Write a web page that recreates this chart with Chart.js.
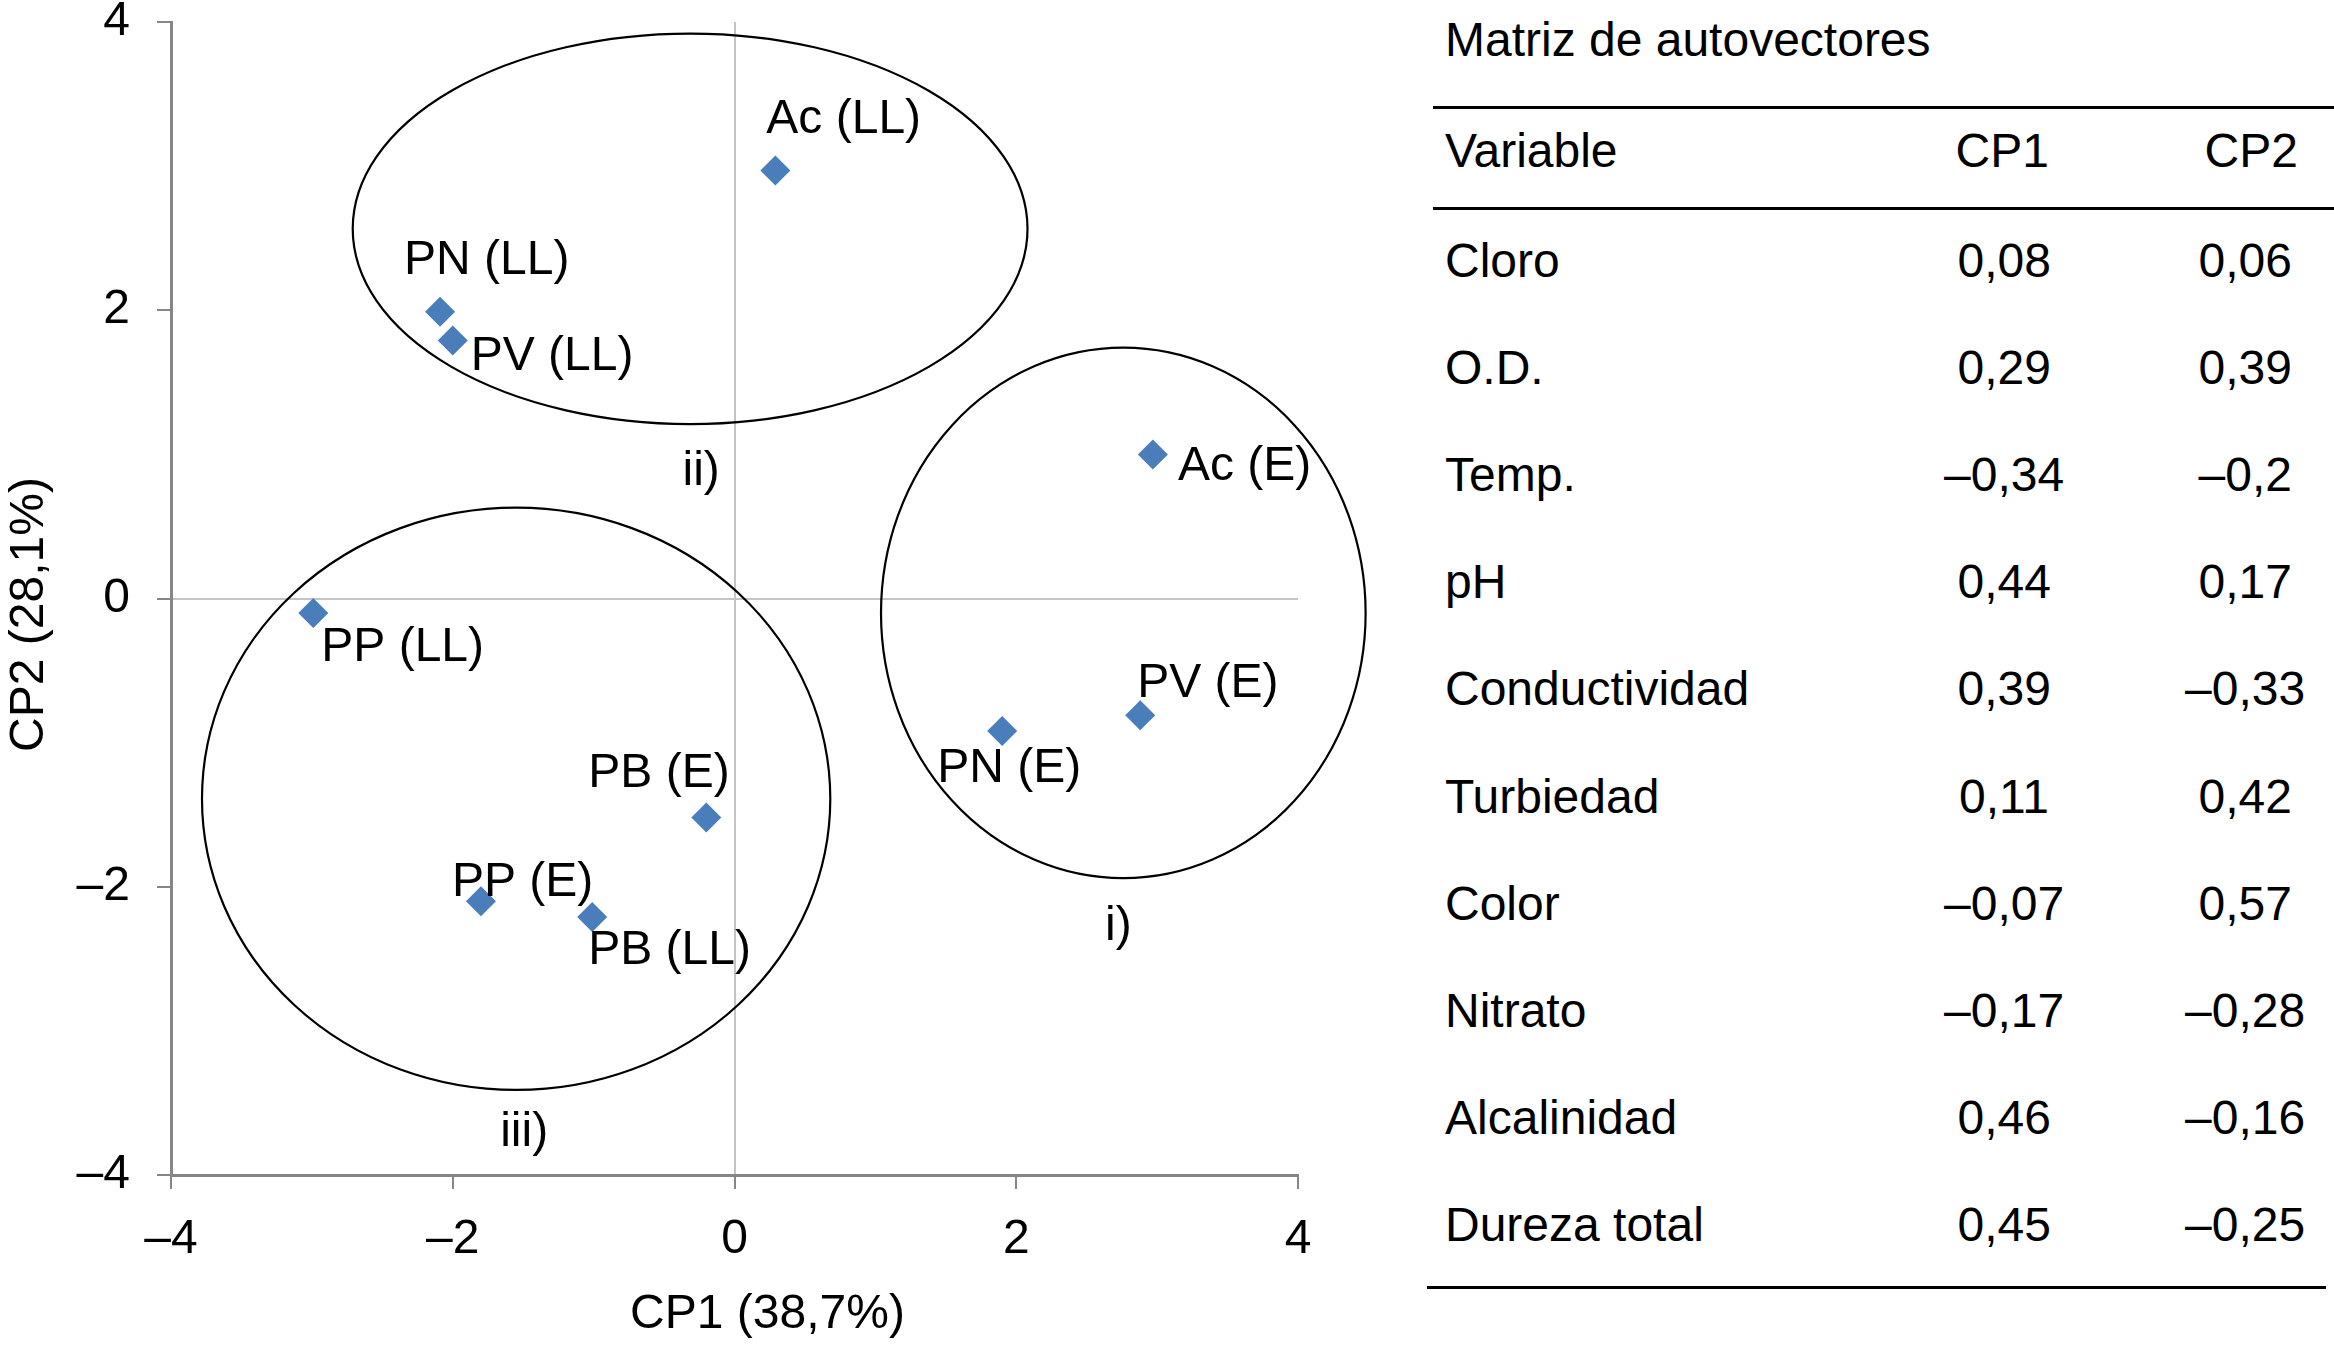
<!DOCTYPE html>
<html>
<head>
<meta charset="utf-8">
<script src="https://cdn.jsdelivr.net/npm/chart.js@4/dist/chart.umd.min.js"></script>
<style>
  html, body { margin: 0; padding: 0; background: #fff; }
  body { width: 2334px; height: 1351px; overflow: hidden; position: relative;
         font-family: 'Liberation Sans', Arial, Helvetica, sans-serif; color: #000; }
  #chartBox { position: absolute; left: 0; top: -27px; width: 1420px; height: 1378px; }
  .t { position: absolute; font-size: 48px; line-height: 53.6px; white-space: nowrap; }
  .rule { position: absolute; height: 3px; background: #000; }
</style>
</head>
<body>
<div id="chartBox"><canvas id="c" width="1420" height="1378"></canvas></div>
<div id="table"></div>
<script>
// ---------- Data ----------
const sampleNames = ['Ac (LL)', 'PN (LL)', 'PV (LL)', 'Ac (E)', 'PP (LL)', 'PV (E)', 'PN (E)', 'PB (E)', 'PP (E)', 'PB (LL)'];
const cp1Scores  = [0.29, -2.09, -2.00, 2.97, -2.99, 2.88, 1.90, -0.20, -1.80, -1.01];
const cp2Scores  = [2.97, 1.99, 1.79, 1.00, -0.10, -0.81, -0.92, -1.52, -2.10, -2.21];

const tickValues = [-4, -2, 0, 2, 4];
const tickLabels = ['–4', '–2', '0', '2', '4'];

const groupNames = ['i)', 'ii)', 'iii)'];
const groupCx = [2.76, -0.315, -1.55];
const groupCy = [-0.10, 2.565, -1.39];
const groupRx = [1.72, 2.395, 2.23];
const groupRy = [1.84, 1.355, 2.02];

const xTitle = 'CP1 (38,7%)';
const yTitle = 'CP2 (28,1%)';

const tableTitle = 'Matriz de autovectores';
const tableHeader = ['Variable', 'CP1', 'CP2'];
const variables = ['Cloro', 'O.D.', 'Temp.', 'pH', 'Conductividad', 'Turbiedad', 'Color', 'Nitrato', 'Alcalinidad', 'Dureza total'];
const cp1Loadings = [0.08, 0.29, -0.34, 0.44, 0.39, 0.11, -0.07, -0.17, 0.46, 0.45];
const cp2Loadings = [0.06, 0.39, -0.2, 0.17, -0.33, 0.42, 0.57, -0.28, -0.16, -0.25];

// ---------- Styles / layout (not data) ----------
const FONT = "'Liberation Sans', Arial, Helvetica, sans-serif";
const labelDx = [-9, -36, 18, 25, 8, -3, -65, -118, -29, -4];
const labelDy = [-37, -38, 29, 26, 48, -18, 51, -31, -5, 47];
const groupLabelDx = [-5, 11, 8];
const groupLabelDy = [62, 61, 56];

const fmt = v => (v < 0 ? '–' : '') + String(Math.abs(v)).replace('.', ',');

// ---------- Chart ----------
const overlay = {
  id: 'overlay',
  beforeDatasetsDraw(chart) {
    const { ctx, scales: { x, y } } = chart;
    ctx.save();
    ctx.strokeStyle = '#000';
    ctx.lineWidth = 2.2;
    for (let i = 0; i < groupCx.length; i++) {
      const cx = x.getPixelForValue(groupCx[i]);
      const cy = y.getPixelForValue(groupCy[i]);
      const rx = Math.abs(x.getPixelForValue(groupCx[i] + groupRx[i]) - cx);
      const ry = Math.abs(y.getPixelForValue(groupCy[i] + groupRy[i]) - cy);
      ctx.beginPath();
      ctx.ellipse(cx, cy, rx, ry, 0, 0, Math.PI * 2);
      ctx.stroke();
    }
    ctx.restore();
  },
  afterDatasetsDraw(chart) {
    const { ctx, chartArea: ca, scales: { x, y } } = chart;
    ctx.save();
    ctx.fillStyle = '#000';
    ctx.font = '48px ' + FONT;
    ctx.textBaseline = 'alphabetic';
    ctx.textAlign = 'left';
    const pts = chart.getDatasetMeta(0).data;
    pts.forEach((el, i) => {
      ctx.fillText(sampleNames[i], el.x + labelDx[i], el.y + labelDy[i]);
    });
    ctx.textAlign = 'center';
    for (let i = 0; i < groupNames.length; i++) {
      const cx = x.getPixelForValue(groupCx[i]);
      const by = y.getPixelForValue(groupCy[i] - groupRy[i]);
      ctx.fillText(groupNames[i], cx + groupLabelDx[i], by + groupLabelDy[i]);
    }
    // axis titles
    ctx.fillText(xTitle, (ca.left + ca.right) / 2 + 33, ca.bottom + 153);
    ctx.translate(43, (ca.top + ca.bottom) / 2 + 16);
    ctx.rotate(-Math.PI / 2);
    ctx.fillText(yTitle, 0, 0);
    ctx.restore();
  }
};

const gridOpts = {
  color: c => (c.tick && c.tick.value === 0 ? '#c4c4c4' : 'rgba(0,0,0,0)'),
  lineWidth: 2,
  tickColor: '#868686',
  tickWidth: 2,
  tickLength: 14,
  drawOnChartArea: true
};

new Chart(document.getElementById('c'), {
  type: 'scatter',
  data: {
    datasets: [{
      data: cp1Scores.map((v, i) => ({ x: v, y: cp2Scores[i] })),
      backgroundColor: '#4A7EBB',
      borderWidth: 0,
      pointStyle: 'rectRot',
      pointRadius: 15,
      pointHoverRadius: 15
    }]
  },
  options: {
    responsive: false,
    devicePixelRatio: 1,
    animation: false,
    events: [],
    layout: { padding: { left: 0, right: 122, top: 0, bottom: 0 } },
    plugins: { legend: { display: false }, tooltip: { enabled: false } },
    scales: {
      x: {
        type: 'linear', min: -4, max: 4,
        afterBuildTicks: s => { s.ticks = tickValues.map(v => ({ value: v })); },
        afterFit: s => { s.height = 176; },
        grid: gridOpts,
        border: { display: true, color: '#868686', width: 3 },
        ticks: {
          color: '#000', padding: 29,
          font: { family: FONT, size: 48, lineHeight: 0.9167 },
          maxRotation: 0,
          callback: (v, i) => tickLabels[i]
        },
        title: { display: false, text: xTitle }
      },
      y: {
        type: 'linear', min: -4, max: 4,
        afterBuildTicks: s => { s.ticks = tickValues.map(v => ({ value: v })); },
        afterFit: s => { s.width = 171; },
        grid: gridOpts,
        border: { display: true, color: '#868686', width: 3 },
        ticks: {
          color: '#000', padding: 27,
          font: { family: FONT, size: 48, lineHeight: 0.9167 },
          callback: (v, i) => tickLabels[i]
        },
        title: { display: false, text: yTitle }
      }
    }
  },
  plugins: [overlay]
});

// ---------- Table ----------
const tbl = document.getElementById('table');
const ASC = 43.4; // ascent of 48px Liberation Sans
function text(str, left, baseline, align) {
  const d = document.createElement('div');
  d.className = 't';
  d.textContent = str;
  d.style.top = (baseline - ASC) + 'px';
  tbl.appendChild(d);
  if (align === 'center') {
    d.style.left = (left - d.offsetWidth / 2) + 'px';
  } else {
    d.style.left = left + 'px';
  }
}
function rule(x1, x2, y) {
  const r = document.createElement('div');
  r.className = 'rule';
  r.style.left = x1 + 'px';
  r.style.width = (x2 - x1) + 'px';
  r.style.top = (y - 1.5) + 'px';
  tbl.appendChild(r);
}
const colLeft = 1445, cp1Center = 2004, cp2Center = 2245;
text(tableTitle, colLeft, 56, 'left');
rule(1433, 2334, 107);
text(tableHeader[0], colLeft, 167, 'left');
text(tableHeader[1], 2002, 167, 'center');
text(tableHeader[2], 2251, 167, 'center');
rule(1433, 2334, 208);
variables.forEach((v, i) => {
  const b = 277 + i * 107.2;
  text(v, colLeft, b, 'left');
  text(fmt(cp1Loadings[i]), cp1Center, b, 'center');
  text(fmt(cp2Loadings[i]), cp2Center, b, 'center');
});
rule(1427, 2326, 1287);
</script>
</body>
</html>
